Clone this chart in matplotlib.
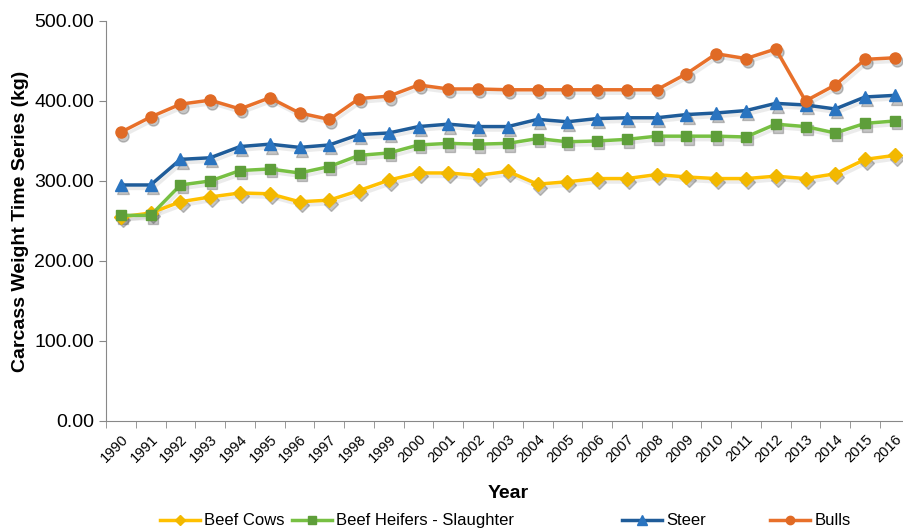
import matplotlib.pyplot as plt
from matplotlib.transforms import offset_copy
import numpy as np

plt.rcParams['font.family'] = ['Liberation Sans', 'DejaVu Sans']

years = list(range(1990, 2017))

beef_cows = [255, 260, 274, 280, 285, 284, 274, 276, 288, 301, 310, 310, 307,
             312, 296, 299, 303, 303, 308, 305, 303, 303, 306, 303, 309, 327, 332]
beef_heifers = [257, 257, 295, 300, 313, 315, 310, 318, 332, 335, 345, 347, 346,
                347, 353, 349, 350, 352, 356, 356, 356, 355, 371, 368, 360, 372, 375]
steer = [295, 295, 327, 329, 343, 346, 342, 345, 358, 360, 368, 371, 368,
         368, 377, 374, 378, 379, 379, 383, 385, 388, 397, 395, 390, 405, 407]
bulls = [361, 380, 396, 401, 390, 404, 385, 377, 403, 406, 420, 415, 415,
         414, 414, 414, 414, 414, 414, 434, 459, 453, 465, 400, 420, 452, 454]

series = [
    ('Beef Cows', beef_cows, '#FFC000', '#F2B800', 'D', 7),
    ('Beef Heifers - Slaughter', beef_heifers, '#77C043', '#5E9E3A', 's', 7),
    ('Steer', steer, '#1F5C99', '#2A74C0', '^', 9),
    ('Bulls', bulls, '#E8702A', '#E06A25', 'o', 8),
]

fig = plt.figure(figsize=(9.04, 5.31), dpi=100)
ax = fig.add_axes([0.1173, 0.2072, 0.889, 0.7533])

x = np.arange(len(years))
shadow_tr = offset_copy(ax.transData, fig=fig, x=1.5, y=-2.5, units='points')
handles = []
for name, vals, lc, mc, mk, ms in series:
    # soft drop shadow under line and markers
    ax.plot(x, vals, color='#444444', lw=2.5, alpha=0.10, transform=shadow_tr, zorder=1)
    ax.plot(x, vals, ls='none', marker=mk, markersize=ms, color='#444444',
            alpha=0.3, transform=shadow_tr, zorder=1)
    h, = ax.plot(x, vals, color=lc, lw=2.5, marker=mk, markersize=ms,
                 markerfacecolor=mc, markeredgecolor=mc, label=name, zorder=2)
    handles.append(h)

ax.set_xlim(-0.5, len(years) - 0.5)
ax.set_ylim(0, 500)
ax.set_yticks(np.arange(0, 501, 100))
ax.set_yticklabels(['%.2f' % v for v in np.arange(0, 501, 100)], fontsize=14)
ax.set_xticks(x)
ax.set_xticklabels([str(y) for y in years], rotation=45, ha='right',
                   rotation_mode='anchor', fontsize=10.5)
ax.set_xticks(np.arange(-0.5, len(years), 1), minor=True)
ax.tick_params(axis='x', which='major', length=0, pad=8)
ax.tick_params(axis='x', which='minor', length=5, color='#888888')
ax.tick_params(axis='y', length=5, color='#888888')

for s in ['top', 'right']:
    ax.spines[s].set_visible(False)
for s in ['left', 'bottom']:
    ax.spines[s].set_color('#888888')

ax.set_ylabel('Carcass Weight Time Series (kg)', fontsize=14, fontweight='bold')
ax.set_xlabel('Year', fontsize=14, fontweight='bold', labelpad=14)

# Excel-style legend with evenly spaced entries
leg_x = [0.177, 0.323, 0.688, 0.852]
for h, lx in zip(handles, leg_x):
    lg = fig.legend([h], [h.get_label()], loc='center left', bbox_to_anchor=(lx, 0.019),
                    frameon=False, fontsize=12, handlelength=2.4, handletextpad=0.25,
                    borderpad=0, borderaxespad=0, markerscale=0.75)

fig.savefig('out.png', dpi=100)
